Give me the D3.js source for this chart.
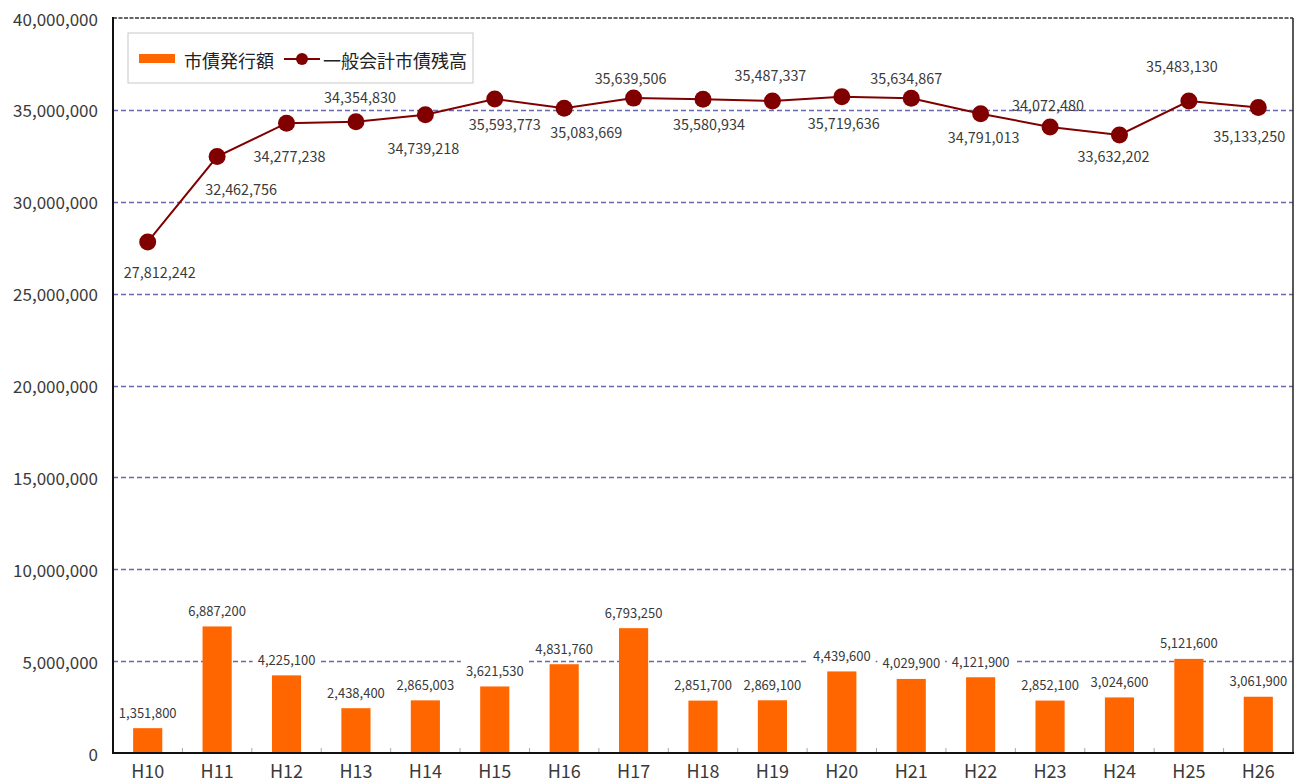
<!DOCTYPE html>
<html>
<head>
<meta charset="utf-8">
<script src="https://cdn.jsdelivr.net/npm/d3@7"></script>
<style>
  html, body { margin: 0; padding: 0; background: #fff; }
  svg { display: block; font-family: "Noto Sans CJK JP", "Noto Sans", sans-serif; }
</style>
</head>
<body>
<svg id="chart" width="1302" height="783"></svg>
<script>
// 年度
const categories = ["H10","H11","H12","H13","H14","H15","H16","H17","H18","H19","H20","H21","H22","H23","H24","H25","H26"];
// 市債発行額（千円）
const issuance = [1351800, 6887200, 4225100, 2438400, 2865003, 3621530, 4831760, 6793250, 2851700, 2869100, 4439600, 4029900, 4121900, 2852100, 3024600, 5121600, 3061900];
// 一般会計市債残高（千円）
const balance = [27812242, 32462756, 34277238, 34354830, 34739218, 35593773, 35083669, 35639506, 35580934, 35487337, 35719636, 35634867, 34791013, 34072480, 33632202, 35483130, 35133250];
// 軸目盛
const yTicks = [0, 5000000, 10000000, 15000000, 20000000, 25000000, 30000000, 35000000, 40000000];
const seriesNames = ["市債発行額", "一般会計市債残高"];

// 残高ラベルの配置（点からのずれ）
const balanceLabelDx = [12, 24, 3, 4, -2, 10, 22, -3, 6, -2, 2, -5, 3, -2, -6, -7, -9];
const balanceLabelDy = [30, 32, 32, -25, 33, 25, 23, -21, 24, -26, 26, -21, 23, -22, 20, -35, 28];

const svg = d3.select("#chart");
const plot = { left: 113, right: 1293, top: 18, bottom: 753 };
const fmt = d3.format(",");

const x = d3.scaleBand()
  .domain(categories)
  .range([plot.left, plot.right])
  .paddingInner(0.58)
  .paddingOuter(0.29);
const step = x.step();
const cx = c => x(c) + x.bandwidth() / 2;

const y = d3.scaleLinear().domain([0, 40000000]).range([plot.bottom, plot.top]);

const barColor = "#ff6600";
const lineColor = "#800000";
const textColor = "#3a3a3a";

// 目盛線
svg.append("g")
  .selectAll("line")
  .data(yTicks.filter(t => t > 0 && t < 40000000))
  .join("line")
  .attr("x1", plot.left).attr("x2", plot.right)
  .attr("y1", d => Math.round(y(d)) + 0.5).attr("y2", d => Math.round(y(d)) + 0.5)
  .attr("stroke", "#4e4e9c")
  .attr("stroke-width", 1.3)
  .attr("stroke-opacity", 0.85)
  .attr("stroke-dasharray", "5,3");

// 棒グラフ
svg.append("g")
  .selectAll("rect")
  .data(categories.map((c, i) => ({ c, v: issuance[i] })))
  .join("rect")
  .attr("x", d => x(d.c))
  .attr("width", x.bandwidth())
  .attr("y", d => y(d.v))
  .attr("height", d => y(0) - y(d.v))
  .attr("fill", barColor);

// 棒ラベル（白地付き）
const barLabels = svg.append("g")
  .selectAll("g")
  .data(categories.map((c, i) => ({ c, v: issuance[i] })))
  .join("g")
  .attr("transform", d => `translate(${cx(d.c)},${y(d.v) - 16})`);

barLabels.append("text")
  .attr("text-anchor", "middle")
  .attr("dominant-baseline", "central")
  .attr("font-size", 13)
  .attr("fill", textColor)
  .text(d => fmt(d.v));

barLabels.each(function() {
  const g = d3.select(this);
  const bb = g.select("text").node().getBBox();
  g.insert("rect", "text")
    .attr("x", bb.x - 5).attr("y", bb.y - 1)
    .attr("width", bb.width + 10).attr("height", bb.height + 2)
    .attr("fill", "#fff");
});

// 折れ線
const pts = categories.map((c, i) => ({ c, v: balance[i], i }));
svg.append("path")
  .datum(pts)
  .attr("fill", "none")
  .attr("stroke", lineColor)
  .attr("stroke-width", 2)
  .attr("d", d3.line().x(d => cx(d.c)).y(d => y(d.v)));

svg.append("g")
  .selectAll("circle")
  .data(pts)
  .join("circle")
  .attr("cx", d => cx(d.c))
  .attr("cy", d => y(d.v))
  .attr("r", 8.5)
  .attr("fill", lineColor);

svg.append("g")
  .selectAll("text")
  .data(pts)
  .join("text")
  .attr("x", d => cx(d.c) + balanceLabelDx[d.i])
  .attr("y", d => y(d.v) + balanceLabelDy[d.i])
  .attr("text-anchor", "middle")
  .attr("dominant-baseline", "central")
  .attr("font-size", 14.4)
  .attr("fill", textColor)
  .text(d => fmt(d.v));

// 上枠（点線）と右枠
svg.append("line")
  .attr("x1", plot.left).attr("x2", plot.right)
  .attr("y1", y(40000000)).attr("y2", y(40000000))
  .attr("stroke", "#333")
  .attr("stroke-width", 1.5)
  .attr("stroke-dasharray", "4,1.5");

svg.append("line")
  .attr("x1", plot.right).attr("x2", plot.right)
  .attr("y1", plot.top).attr("y2", plot.bottom)
  .attr("stroke", "#222")
  .attr("stroke-width", 1.5);

// 縦軸
svg.append("line")
  .attr("x1", plot.left).attr("x2", plot.left)
  .attr("y1", plot.top - 1).attr("y2", plot.bottom + 1)
  .attr("stroke", "#111").attr("stroke-width", 2);

svg.append("g")
  .selectAll("text")
  .data(yTicks)
  .join("text")
  .attr("x", plot.left - 15)
  .attr("y", d => y(d))
  .attr("text-anchor", "end")
  .attr("dominant-baseline", "central")
  .attr("font-size", 17)
  .attr("fill", textColor)
  .text(d => fmt(d));

// 横軸
svg.append("g")
  .selectAll("line")
  .data(categories.slice(1))
  .join("line")
  .attr("x1", d => x(d) - (step - x.bandwidth()) / 2)
  .attr("x2", d => x(d) - (step - x.bandwidth()) / 2)
  .attr("y1", plot.bottom - 5).attr("y2", plot.bottom)
  .attr("stroke", "#aaa").attr("stroke-width", 1);

svg.append("line")
  .attr("x1", plot.left - 1).attr("x2", plot.right + 1)
  .attr("y1", plot.bottom).attr("y2", plot.bottom)
  .attr("stroke", "#111").attr("stroke-width", 2);

svg.append("g")
  .selectAll("text")
  .data(categories)
  .join("text")
  .attr("x", d => cx(d))
  .attr("y", 770)
  .attr("text-anchor", "middle")
  .attr("dominant-baseline", "central")
  .attr("font-size", 18)
  .attr("fill", textColor)
  .text(d => d);

// 凡例
const legend = svg.append("g").attr("transform", "translate(128,33)");
legend.append("rect")
  .attr("width", 345).attr("height", 50)
  .attr("fill", "#fff")
  .attr("stroke", "#c8c8c8").attr("stroke-width", 1);
legend.append("rect")
  .attr("x", 11).attr("y", 21).attr("width", 36).attr("height", 9)
  .attr("fill", barColor);
legend.append("text")
  .attr("x", 56).attr("y", 27)
  .attr("dominant-baseline", "central")
  .attr("font-size", 18)
  .attr("fill", "#222")
  .text(seriesNames[0]);
legend.append("line")
  .attr("x1", 156).attr("x2", 192).attr("y1", 26).attr("y2", 26)
  .attr("stroke", lineColor).attr("stroke-width", 2);
legend.append("circle")
  .attr("cx", 174).attr("cy", 26).attr("r", 6)
  .attr("fill", lineColor);
legend.append("text")
  .attr("x", 195).attr("y", 27)
  .attr("dominant-baseline", "central")
  .attr("font-size", 18)
  .attr("fill", "#222")
  .text(seriesNames[1]);
</script>
</body>
</html>
